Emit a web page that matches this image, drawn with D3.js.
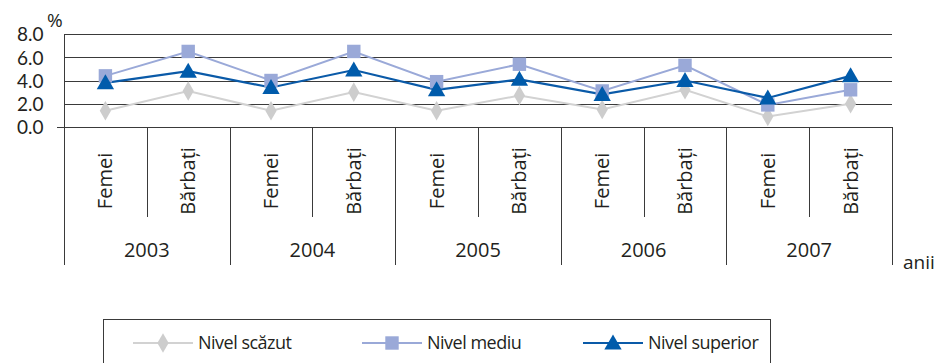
<!DOCTYPE html>
<html>
<head>
<meta charset="utf-8">
<script src="https://cdn.jsdelivr.net/npm/d3@7"></script>
<style>
  html, body { margin: 0; padding: 0; background: #fff; }
  svg { display: block; }
  text { font-family: "Open Sans", "Noto Sans", sans-serif; fill: #231f20; }
</style>
</head>
<body>
<svg id="chart" width="940" height="363"></svg>
<script>
const years = ["2003", "2004", "2005", "2006", "2007"];
const genders = ["Femei", "Bărbați"];
const categories = ["2003|Femei","2003|Bărbați","2004|Femei","2004|Bărbați","2005|Femei","2005|Bărbați","2006|Femei","2006|Bărbați","2007|Femei","2007|Bărbați"];
const nivelScazut   = [1.4, 3.1, 1.4, 3.0, 1.4, 2.7, 1.5, 3.2, 0.9, 2.0];
const nivelMediu    = [4.4, 6.5, 4.0, 6.5, 3.9, 5.4, 3.1, 5.3, 1.9, 3.2];
const nivelSuperior = [3.8, 4.8, 3.4, 4.9, 3.2, 4.1, 2.8, 4.0, 2.5, 4.4];
const yTicks = [0, 2, 4, 6, 8];
const seriesNames = ["Nivel scăzut", "Nivel mediu", "Nivel superior"];

const series = [
  { name: seriesNames[0], values: nivelScazut, line: "#d2d2d2", fill: "#cdcdcd", symbol: d3.symbolDiamond, size: 110, width: 2 },
  { name: seriesNames[1], values: nivelMediu, line: "#9aa9d8", fill: "#9aa9d8", symbol: d3.symbolSquare, size: 180, width: 2 },
  { name: seriesNames[2], values: nivelSuperior, line: "#0a5aa8", fill: "#005bab", symbol: d3.symbolTriangle, size: 130, width: 2.2 }
];

const svg = d3.select("#chart");
const pLeft = 64, pRight = 892, pTop = 34, pBottom = 127;

const x = d3.scaleBand().domain(categories).range([pLeft, pRight]).paddingInner(0).paddingOuter(0);
const y = d3.scaleLinear().domain([0, 8]).range([pBottom, pTop]);

// gridlines
svg.append("g").selectAll("line").data(yTicks.filter(t => t > 0)).join("line")
  .attr("x1", pLeft).attr("x2", pRight)
  .attr("y1", d => Math.round(y(d)) + 0.5).attr("y2", d => Math.round(y(d)) + 0.5)
  .attr("stroke", "#3a3a3a").attr("stroke-width", 1);

// y axis
const yAxis = d3.axisLeft(y).tickValues(yTicks).tickFormat(d3.format(".1f")).tickSize(0).tickPadding(21);
const gy = svg.append("g").attr("transform", `translate(${pLeft + 0.5},0)`).call(yAxis);
gy.select(".domain").remove();
gy.selectAll("text").style("font-family", "Lato, 'Open Sans', sans-serif").style("font-size", "19px")
  .attr("fill", "#231f20").attr("dy", "0.36em");
svg.append("line").attr("x1", pLeft + 0.5).attr("x2", pLeft + 0.5).attr("y1", pTop).attr("y2", pBottom)
  .attr("stroke", "#3a3a3a");

// baseline
svg.append("line").attr("x1", 57).attr("x2", pRight)
  .attr("y1", Math.round(y(0)) + 0.5).attr("y2", Math.round(y(0)) + 0.5)
  .attr("stroke", "#3a3a3a");

svg.append("text").attr("x", 47).attr("y", 27).style("font-size", "19px").text("%");

// category separators
const bw = x.bandwidth();
const boundaries = categories.map(c => x(c)).concat([pRight]);
svg.append("g").selectAll("line").data(boundaries).join("line")
  .attr("x1", d => Math.round(d) + 0.5).attr("x2", d => Math.round(d) + 0.5)
  .attr("y1", pBottom).attr("y2", (d, i) => i % 2 === 0 ? 265 : 217)
  .attr("stroke", "#3a3a3a");

// rotated category labels
svg.append("g").selectAll("text").data(categories).join("text")
  .attr("transform", d => `translate(${x(d) + bw / 2 + 7},181) rotate(-90)`)
  .attr("text-anchor", "middle")
  .style("font-size", "20px")
  .text(d => d.split("|")[1]);

// year labels
svg.append("g").selectAll("text").data(years).join("text")
  .attr("x", (d, i) => x(categories[i * 2]) + bw)
  .attr("y", 257)
  .attr("text-anchor", "middle")
  .style("font-size", "20px")
  .text(d => d);

svg.append("text").attr("x", 903).attr("y", 269).style("font-size", "19px").text("anii");

// series
const lineGen = d3.line().x((d, i) => x(categories[i]) + bw / 2).y(d => y(d));
series.forEach(s => {
  svg.append("path").datum(s.values).attr("d", lineGen)
    .attr("fill", "none").attr("stroke", s.line).attr("stroke-width", s.width);
});
series.forEach(s => {
  svg.append("g").selectAll("path").data(s.values).join("path")
    .attr("transform", (d, i) => `translate(${x(categories[i]) + bw / 2},${y(d) + (s.symbol === d3.symbolTriangle ? 1.5 : 0)})`)
    .attr("d", d3.symbol().type(s.symbol).size(s.size))
    .attr("fill", s.fill);
});

// legend
const lg = svg.append("g");
lg.append("rect").attr("x", 103.5).attr("y", 319.5).attr("width", 667).attr("height", 60)
  .attr("fill", "none").attr("stroke", "#3a3a3a");
const legendX = [133, 362, 583];
series.forEach((s, i) => {
  const lx = legendX[i];
  lg.append("line").attr("x1", lx).attr("x2", lx + 60).attr("y1", 343).attr("y2", 343)
    .attr("stroke", s.line).attr("stroke-width", s.width);
  lg.append("path").attr("transform", `translate(${lx + 30},${343 + (s.symbol === d3.symbolTriangle ? 1.5 : 0)})`)
    .attr("d", d3.symbol().type(s.symbol).size(s.size)).attr("fill", s.fill);
  lg.append("text").attr("x", lx + 65).attr("y", 349).style("font-size", "18px")
    .style("letter-spacing", "-0.5px").text(s.name);
});
</script>
</body>
</html>
